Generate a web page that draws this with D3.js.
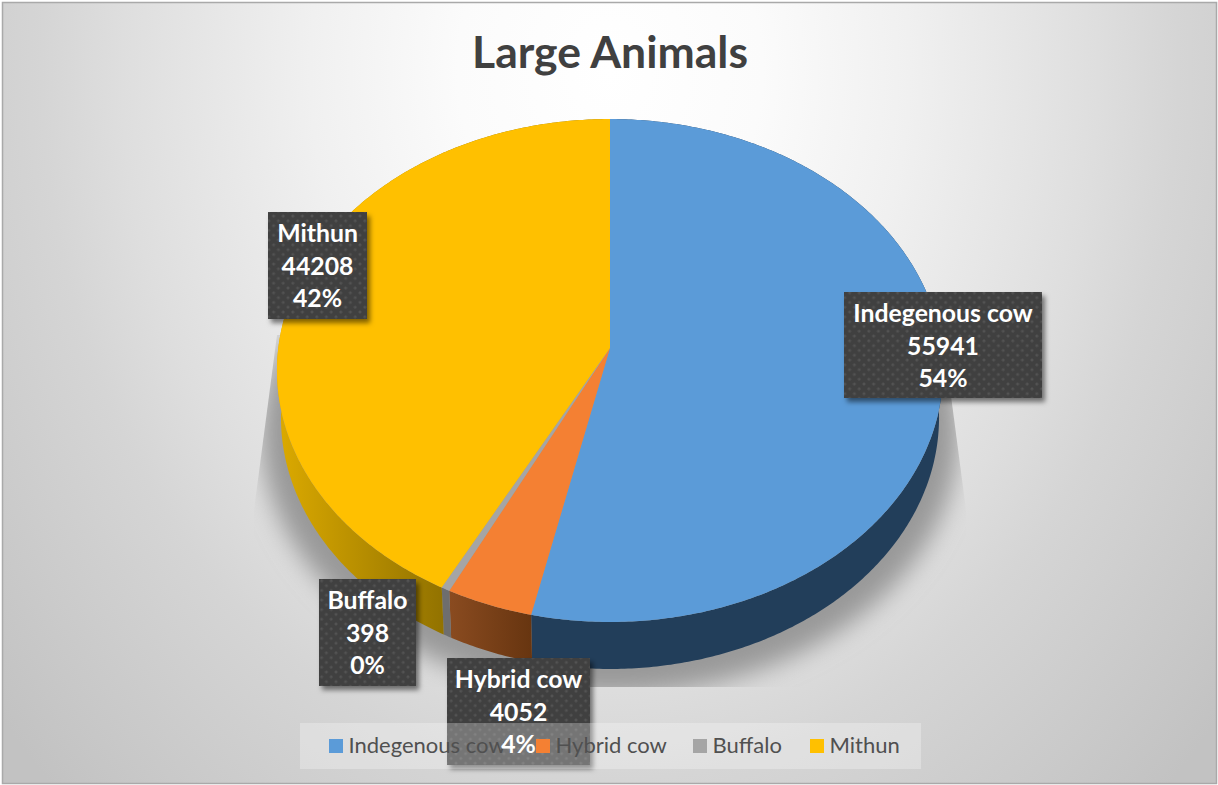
<!DOCTYPE html>
<html>
<head>
<meta charset="utf-8">
<script src="https://cdn.jsdelivr.net/npm/d3@7"></script>
<style>
html,body{margin:0;padding:0;background:#fff}
svg{display:block}
text{font-family:Lato,"Open Sans",sans-serif}
</style>
</head>
<body>
<svg id="chart" width="1218" height="785"></svg>
<script>
const chartTitle = "Large Animals";
const categories = ["Indegenous cow", "Hybrid cow", "Buffalo", "Mithun"];
const values = [55941, 4052, 398, 44208];
const shareLabels = ["54%", "4%", "0%", "42%"];
const topColors = ["#5b9bd8", "#f48033", "#a5a5a5", "#ffc000"];
const wallStart = ["#223e5a", "#8a4b20", "#6e6e6e", "#dcaa00"];
const wallEnd = ["#223e5a", "#673510", "#6e6e6e", "#8f7000"];
const labelBoxes = [[844, 292, 198, 106], [447, 658, 143, 107], [319, 579, 97, 107], [268, 212, 99, 107]];
const legendSwatchX = [329, 536, 693, 810];

const svg = d3.select("#chart");
const defs = svg.append("defs");

// Page backdrop: soft vignette around the top centre
const bg = defs.append("radialGradient").attr("id", "backdrop")
  .attr("gradientUnits", "userSpaceOnUse")
  .attr("cx", 0).attr("cy", 0).attr("r", 800)
  .attr("gradientTransform", "translate(610,70) scale(1,1.25)");
[[0, "#ffffff"], [0.19, "#fbfbfb"], [0.375, "#f0f0f0"], [0.52, "#e5e5e5"], [0.61, "#dedede"], [0.71, "#d5d5d5"], [0.91, "#c8c8c8"], [1, "#c2c2c2"]]
  .forEach(([o, c]) => bg.append("stop").attr("offset", o).attr("stop-color", c));

const blur = defs.append("filter").attr("id", "groundBlur")
  .attr("x", "-20%").attr("y", "-20%").attr("width", "140%").attr("height", "140%");
blur.append("feGaussianBlur").attr("stdDeviation", 12);

const boxShadow = defs.append("filter").attr("id", "boxShadow")
  .attr("x", "-20%").attr("y", "-20%").attr("width", "140%").attr("height", "140%");
boxShadow.append("feDropShadow").attr("dx", 3).attr("dy", 4).attr("stdDeviation", 2.5)
  .attr("flood-color", "#000").attr("flood-opacity", 0.5);

const dots = defs.append("pattern").attr("id", "labelDots").attr("patternUnits", "userSpaceOnUse")
  .attr("width", 9.6).attr("height", 9.6);
dots.append("rect").attr("width", 9.6).attr("height", 9.6).attr("fill", "#404040");
[[0, 0], [9.6, 0], [0, 9.6], [9.6, 9.6], [4.8, 4.8]].forEach(([x, y]) =>
  dots.append("circle").attr("cx", x).attr("cy", y).attr("r", 1.5).attr("fill", "#525252"));

// Trapezoid that bounds the ground shadow
defs.append("clipPath").attr("id", "groundClip").append("path")
  .attr("d", d3.line()([[277, 335], [254, 510], [254, 687], [966, 687], [966, 510], [943, 335]]) + "Z");

svg.append("rect").attr("width", 1218).attr("height", 785).attr("fill", "#ffffff");
svg.append("rect").attr("x", 2.5).attr("y", 2.5).attr("width", 1214).attr("height", 781)
  .attr("fill", "url(#backdrop)").attr("stroke", "#a9a9a9").attr("stroke-width", 1.5);

// Pie disc seen in perspective: a circle of radius R mapped through a homography
const cx = 610, apexY = 348, R = 331.7, spreadY = 218.3, tilt = -0.0895;
const depth = 47, lowerScale = 0.988;
const rim = a => {
  const u = Math.sin(a), v = -Math.cos(a), w = 1 + tilt * v;
  return [cx + R * u / w, (apexY + spreadY * v) / w];
};
const lowerRim = a => {
  const [x, y] = rim(a);
  return [cx + (x - cx) * lowerScale, y + depth];
};
const arcSteps = (a0, a1) => {
  const n = Math.max(2, Math.ceil((a1 - a0) / 0.01));
  return d3.range(n + 1).map(i => a0 + (a1 - a0) * i / n);
};
const line = d3.line();
const slices = d3.pie().sort(null).startAngle(0).endAngle(2 * Math.PI)(values);

// Ground shadow under the disc
svg.append("g").attr("clip-path", "url(#groundClip)")
  .append("path")
  .attr("d", line(arcSteps(0, 2 * Math.PI).map(a => {
    const [x, y] = lowerRim(a);
    return [cx + (x - cx) * 1.06, y + 14 + (y - 370) * 0.04];
  })) + "Z")
  .attr("fill", "#999999")
  .attr("filter", "url(#groundBlur)");

// Side walls
slices.forEach((s, i) => {
  const steps = arcSteps(s.startAngle, s.endAngle);
  const pts = steps.map(rim).concat(steps.slice().reverse().map(lowerRim));
  const xs = pts.map(p => p[0]);
  const g = defs.append("linearGradient").attr("id", "wall" + i)
    .attr("gradientUnits", "userSpaceOnUse")
    .attr("x1", i === 3 ? d3.min(xs) : d3.max(xs)).attr("x2", i === 3 ? d3.max(xs) : d3.min(xs))
    .attr("y1", 0).attr("y2", 0);
  if (i === 3) {
    g.append("stop").attr("offset", 0).attr("stop-color", wallStart[i]);
    g.append("stop").attr("offset", 0.52).attr("stop-color", wallEnd[i]);
  } else if (i === 1) {
    g.append("stop").attr("offset", 0).attr("stop-color", wallEnd[i]);
    g.append("stop").attr("offset", 1).attr("stop-color", wallStart[i]);
  } else {
    g.append("stop").attr("offset", 0).attr("stop-color", wallStart[i]);
    g.append("stop").attr("offset", 1).attr("stop-color", wallEnd[i]);
  }
  svg.append("path").attr("d", line(pts) + "Z").attr("fill", `url(#wall${i})`);
});

// Top faces
slices.forEach((s, i) => {
  const pts = [[cx, apexY]].concat(arcSteps(s.startAngle, s.endAngle).map(rim));
  svg.append("path").attr("d", line(pts) + "Z").attr("fill", topColors[i]);
});

// Title
svg.append("text").attr("x", 610).attr("y", 68).attr("text-anchor", "middle")
  .attr("font-size", 44.5).attr("font-weight", 700).attr("fill", "#404040").text(chartTitle);

// Data label boxes
categories.forEach((c, i) => {
  const [x, y, w, h] = labelBoxes[i];
  svg.append("rect").attr("x", x).attr("y", y).attr("width", w).attr("height", h)
    .attr("fill", "url(#labelDots)").attr("filter", "url(#boxShadow)");
});

// Legend
svg.append("rect").attr("x", 300).attr("y", 723).attr("width", 621).attr("height", 46)
  .attr("fill", "#ffffff").attr("fill-opacity", 0.28);
categories.forEach((c, i) => {
  svg.append("rect").attr("x", legendSwatchX[i]).attr("y", 739).attr("width", 14).attr("height", 14)
    .attr("fill", topColors[i]);
  svg.append("text").attr("x", legendSwatchX[i] + 19.5).attr("y", 753)
    .attr("font-size", 22).attr("fill", "#505050").text(c);
});

// Data label text
categories.forEach((c, i) => {
  const [x, y, w] = labelBoxes[i];
  [c, String(values[i]), shareLabels[i]].forEach((t, k) => {
    svg.append("text").attr("x", x + w / 2).attr("y", y + 30 + k * 32.5)
      .attr("text-anchor", "middle").attr("font-size", 24.8).attr("font-weight", 700)
      .attr("fill", "#ffffff").text(t);
  });
});
</script>
</body>
</html>
